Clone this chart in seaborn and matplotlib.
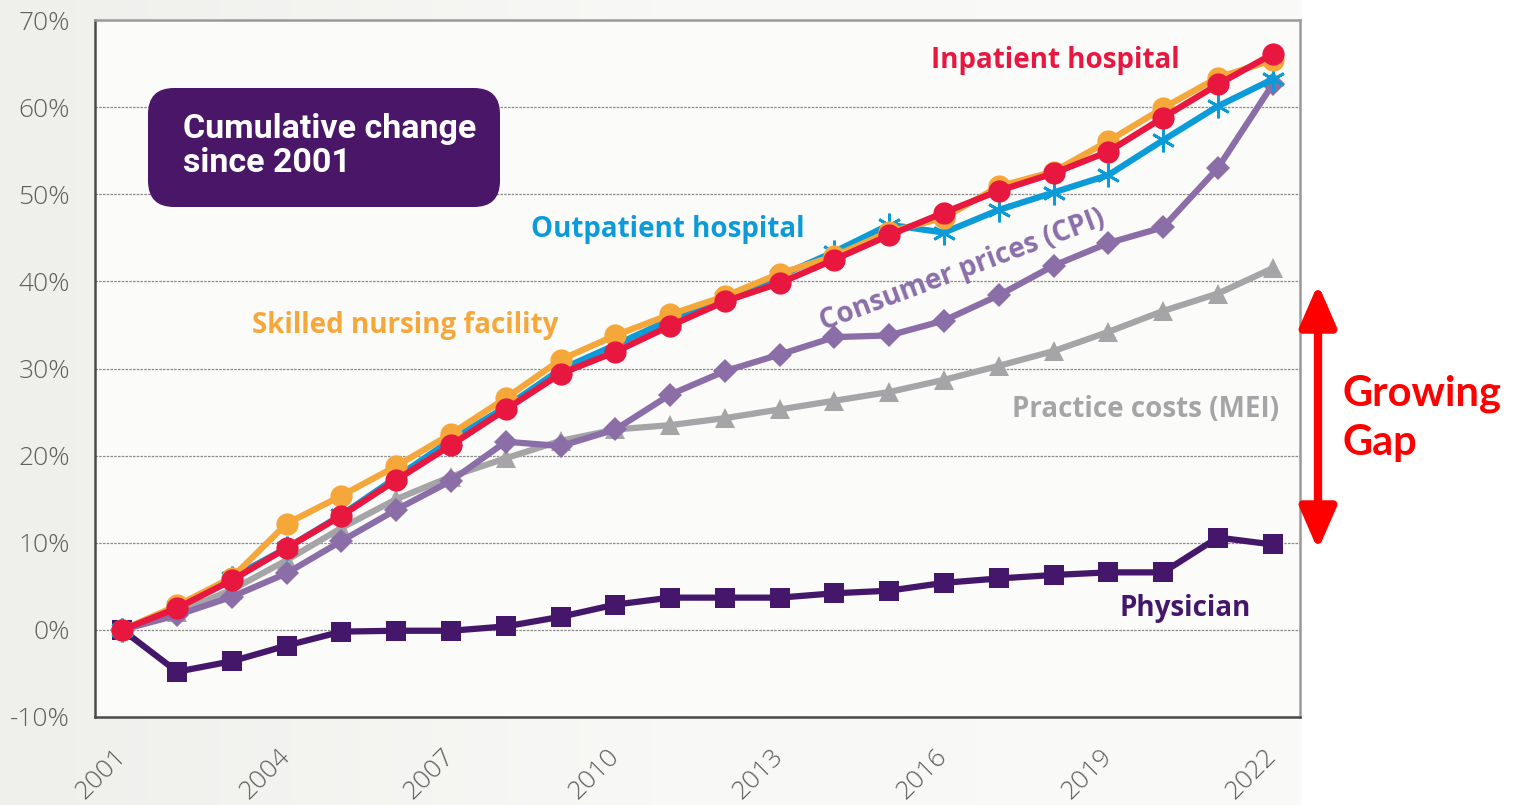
import numpy as np
import pandas as pd
import seaborn as sns
import matplotlib.pyplot as plt
from matplotlib.patches import FancyBboxPatch, FancyArrowPatch
from matplotlib.colors import LinearSegmentedColormap

# cumulative change since 2001, in percent
years = list(range(2001, 2023))
inpatient = [0, 2.5, 5.7, 9.4, 13.1, 17.2, 21.2, 25.3, 29.4, 31.9, 34.9,
             37.7, 39.8, 42.5, 45.3, 47.9, 50.4, 52.4, 54.9, 58.8, 62.6, 66.1]
nursing = [0, 2.8, 6.0, 12.2, 15.4, 18.8, 22.5, 26.6, 31.0, 33.8, 36.2,
           38.3, 40.9, 42.9, 45.7, 47.3, 50.9, 52.6, 56.1, 59.9, 63.4, 65.4]
outpatient = [0, 2.6, 6.0, 9.4, 13.2, 17.5, 21.8, 25.6, 29.9, 32.7, 35.6,
              38.1, 40.6, 43.4, 46.5, 45.6, 48.2, 50.2, 52.2, 56.2, 60.1, 63.2]
cpi = [0, 1.7, 3.8, 6.5, 10.2, 13.8, 17.1, 21.6, 21.1, 23.0, 27.0,
       29.7, 31.6, 33.6, 33.8, 35.5, 38.4, 41.8, 44.4, 46.2, 53.0, 62.6]
mei = [0, 2.0, 4.6, 8.0, 11.7, 15.0, 17.6, 19.7, 21.7, 23.0, 23.5,
       24.3, 25.3, 26.3, 27.3, 28.7, 30.3, 32.0, 34.2, 36.6, 38.6, 41.5]
physician = [0, -4.8, -3.6, -1.8, -0.2, -0.1, -0.1, 0.4, 1.5, 2.9, 3.7,
             3.7, 3.7, 4.2, 4.5, 5.4, 5.9, 6.3, 6.6, 6.6, 10.6, 9.8]

tick_years = [2001, 2004, 2007, 2010, 2013, 2016, 2019, 2022]
y_ticks = [-10, 0, 10, 20, 30, 40, 50, 60, 70]

idx = np.arange(len(years))

sns.set_style("white")
plt.rcParams['font.family'] = ['Open Sans', 'DejaVu Sans']

fig = plt.figure(figsize=(15.34, 8.05), dpi=100)
fig.patch.set_facecolor('white')

# soft grey background behind the original chart area
bg = fig.add_axes([0, 0, 1302 / 1534, 1])
cmap = LinearSegmentedColormap.from_list('bg', ['#efefec', '#f8f8f6', '#fafaf9'])
bg.imshow(np.linspace(0, 1, 256)[None, :], cmap=cmap, aspect='auto')
bg.axis('off')

ax = fig.add_axes([95 / 1534, 1 - 717 / 805, 1205 / 1534, 697 / 805])
ax.set_facecolor('#fbfbfa')

series = [
    (mei, '#a5a5a7', '^', 15, 2),
    (cpi, '#8b6ea8', 'D', 12, 3),
    (physician, '#45176a', 's', 15, 3),
    (outpatient, '#0b9bd8', (6, 2, 0), 17, 4),
    (nursing, '#f6a73a', 'o', 16, 5),
    (inpatient, '#e8173f', 'o', 16, 6),
]
for vals, col, mk, ms, z in series:
    df = pd.DataFrame({'x': idx, 'y': vals})
    sns.lineplot(data=df, x='x', y='y', ax=ax, color=col, lw=4.5,
                 marker=mk, markersize=ms, markeredgecolor=col,
                 markeredgewidth=2 if mk == (6, 2, 0) else 0, zorder=z)

ax.set_xlim(-0.5, len(years) - 0.5)
ax.set_ylim(-10, 70)
ax.set_xlabel('')
ax.set_ylabel('')

ax.set_xticks([years.index(y) for y in tick_years])
ax.set_xticklabels([str(y) for y in tick_years], rotation=45, ha='right',
                   rotation_mode='anchor', va='center')
ax.set_xticks(np.arange(-0.5, len(years), 1), minor=True)
ax.tick_params(axis='x', which='major', length=0, pad=26,
               labelsize=19, labelcolor='#5f5f5f')
ax.tick_params(axis='x', which='minor', length=10, width=1.2,
               color='#444444', direction='out')

ax.set_yticks(y_ticks)
ax.set_yticklabels([f"{v}%" for v in y_ticks])
ax.tick_params(axis='y', length=10, width=1.2, color='#444444',
               direction='out', pad=8, labelsize=19, labelcolor='#5f5f5f')
for lab in ax.get_xticklabels() + ax.get_yticklabels():
    lab.set_fontweight('light')

ax.yaxis.grid(True, linestyle=(0, (2, 1)), color='#8a8a8a', lw=0.9)
ax.set_axisbelow(True)
for side in ['left', 'bottom']:
    ax.spines[side].set_color('#4a4a4a')
    ax.spines[side].set_linewidth(1.8)
for side in ['top', 'right']:
    ax.spines[side].set_color('#9a9a9a')
    ax.spines[side].set_linewidth(1.8)

# series labels
lab_kw = dict(fontweight='bold', fontsize=20, ha='center', va='center', zorder=10)
ax.text(17.04, 65.4, 'Inpatient hospital', color='#e8173f', **lab_kw)
ax.text(9.95, 46.0, 'Outpatient hospital', color='#0b9bd8', **lab_kw)
ax.text(5.17, 34.9, 'Skilled nursing facility', color='#f6a73a', **lab_kw)
ax.text(15.34, 41.3, 'Consumer prices (CPI)', color='#8b6ea8', rotation=20.5, **lab_kw)
ax.text(18.68, 25.3, 'Practice costs (MEI)', color='#a5a5a7', **lab_kw)
ax.text(19.41, 2.4, 'Physician', color='#45176a', **lab_kw)

# title box
box = FancyBboxPatch((148 / 1534, 1 - 207 / 805), 352 / 1534, 119 / 805,
                     boxstyle='round,pad=0,rounding_size=0.017',
                     mutation_aspect=1534 / 805, transform=fig.transFigure,
                     facecolor='#4a1668', edgecolor='none', zorder=20)
fig.patches.append(box)
fig.text(183 / 1534, 1 - 146 / 805, 'Cumulative change\nsince 2001',
         family=['Roboto', 'DejaVu Sans'], fontweight='bold',
         fontsize=24.5, color='white', ha='left', va='center',
         linespacing=1.05, zorder=21)

# growing gap arrow
fig.patches.append(FancyArrowPatch(
    (1318 / 1534, 1 - 550 / 805), (1318 / 1534, 1 - 284 / 805),
    transform=fig.transFigure, arrowstyle='<|-|>,head_length=1.15,head_width=0.5',
    mutation_scale=22, lw=6, color='#ff0000', shrinkA=0, shrinkB=0))
fig.text(1342 / 1534, 1 - 418 / 805, 'Growing\nGap', family=['Lato', 'DejaVu Sans'],
         fontweight='bold', fontsize=30, color='#ff0000', ha='left', va='center',
         linespacing=1.35)

fig.savefig('out.png', dpi=100)
